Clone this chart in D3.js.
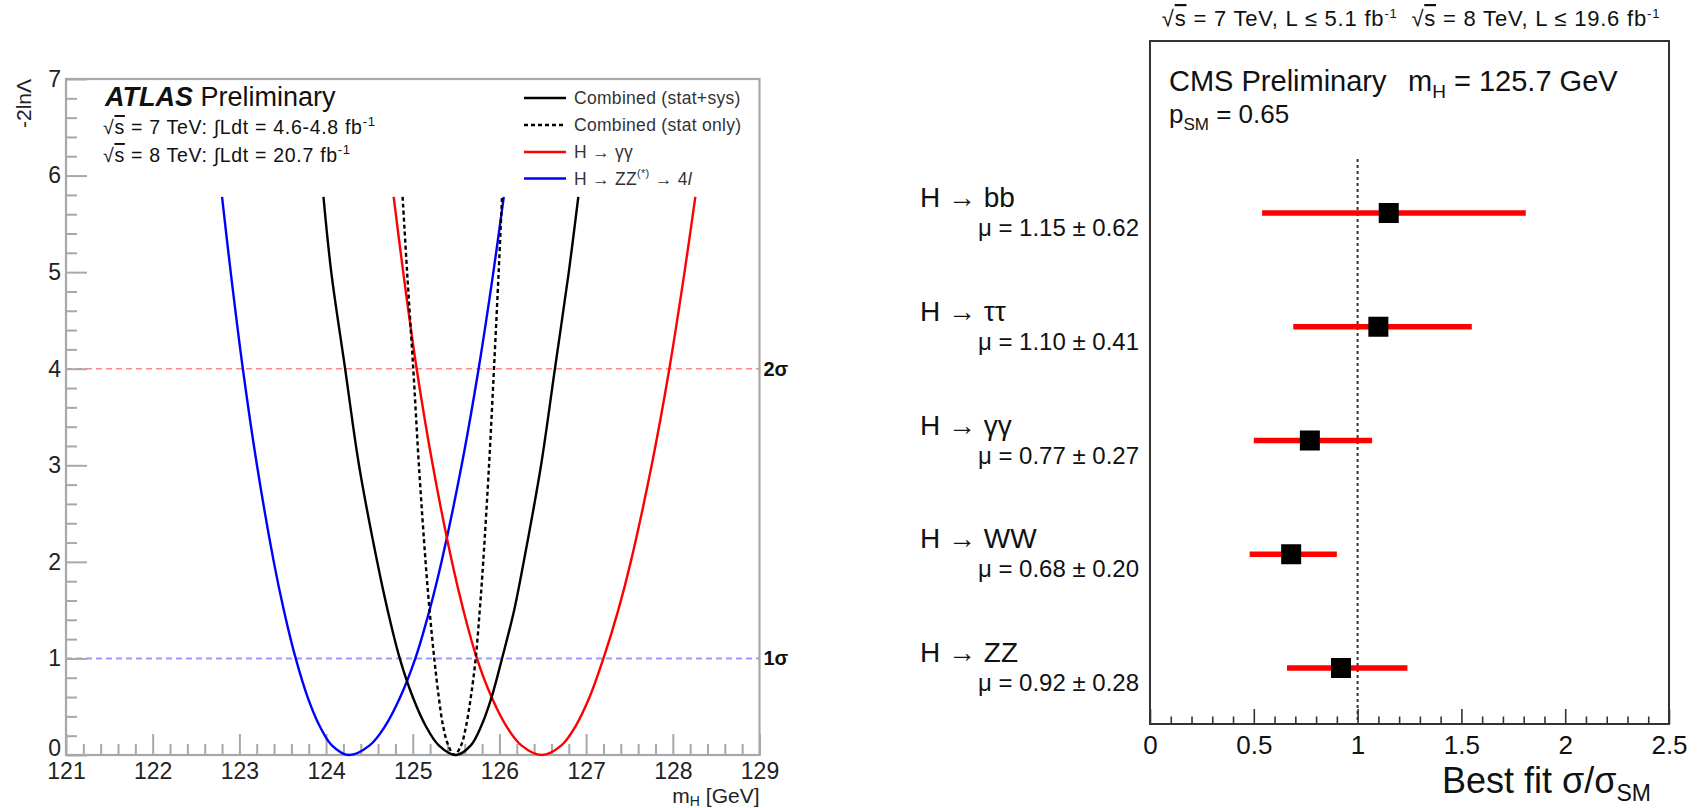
<!DOCTYPE html>
<html><head><meta charset="utf-8">
<script src="https://cdn.jsdelivr.net/npm/d3@7"></script>
<style>
html,body{margin:0;padding:0;background:#fff;}
svg{display:block;font-family:"Liberation Sans",Arial,Helvetica,sans-serif;}
</style></head><body>
<svg id="c" width="1702" height="808"></svg>
<script>
// ---------------- data (left: ATLAS mass scan) ----------------
const massTicks = [121,122,123,124,125,126,127,128,129];
const lnlTicks = [0,1,2,3,4,5,6,7];
const sigmaLevels = [1,4];
const sigmaLabels = ["1σ","2σ"];

// -2lnΛ levels at which each curve was read (left branch, minimum, right branch)
const scanLevels = [5.78,5,4,3,2,1.5,1,0.6,0.3,0.1,0,0.1,0.3,0.6,1,1.5,2,3,4,5,5.78];
const combSysMass  = [123.97,124.06,124.22,124.38,124.59,124.71,124.85,125.00,125.15,125.30,125.50,125.67,125.79,125.91,126.03,126.17,126.28,126.48,126.64,126.80,126.91];
const combStatMass = [124.883,124.935,125.006,125.071,125.148,125.194,125.248,125.30,125.35,125.41,125.48,125.558,125.615,125.67,125.726,125.773,125.813,125.88,125.937,125.991,126.03];
const ggMass       = [124.78,124.89,125.045,125.231,125.452,125.584,125.74,125.909,126.079,126.253,126.49,126.715,126.879,127.04,127.20,127.371,127.515,127.756,127.96,128.135,128.26];
const zzMass       = [122.80,122.90,123.04,123.203,123.397,123.513,123.65,123.787,123.926,124.067,124.26,124.503,124.682,124.856,125.03,125.194,125.332,125.564,125.76,125.93,126.05];

// ---------------- data (right: CMS signal strengths) ----------------
const channels  = ["bb","ττ","γγ","WW","ZZ"];
const muValues  = [1.15,1.10,0.77,0.68,0.92];
const muErrors  = [0.62,0.41,0.27,0.20,0.28];
const barLow    = [0.54,0.69,0.50,0.48,0.66];
const barHigh   = [1.81,1.55,1.07,0.90,1.24];
const muTicks   = [0,0.5,1,1.5,2,2.5];
const smValue   = 1;

// ---------------- helpers ----------------
const svg = d3.select("#c");
function rich(g, x, y, parts, o) {
  const t = g.append("text").attr("x", x).attr("y", y)
    .attr("font-size", o.size).attr("fill", o.fill || "#000")
    .attr("text-anchor", o.anchor || "start");
  if (o.weight) t.attr("font-weight", o.weight);
  if (o.ls) t.attr("letter-spacing", o.ls);
  let cur = 0;
  parts.forEach(p => {
    const off = p.off || 0;
    const ts = t.append("tspan").text(p.t).attr("dy", off - cur);
    cur = off;
    if (p.size) ts.attr("font-size", p.size);
    if (p.italic) ts.attr("font-style", "italic");
    if (p.bold) ts.attr("font-weight", "bold");
    if (p.over) ts.style("text-decoration", "overline");
  });
  return t;
}

// ================= LEFT PLOT =================
const xL = d3.scaleLinear().domain([121,129]).range([66,759.5]);
const yL = d3.scaleLinear().domain([0,7]).range([755,79]);
const L = svg.append("g");
const axisGray = "#a8a8a8";

// sigma lines
sigmaLevels.forEach((lv,i) => {
  L.append("line").attr("x1", xL(121)).attr("x2", xL(129))
    .attr("y1", yL(lv)).attr("y2", yL(lv))
    .attr("stroke", i === 0 ? "#9a9aff" : "#ff8888").attr("stroke-width", i === 0 ? 2 : 1.6)
    .attr("stroke-dasharray", "6,4");
  L.append("text").attr("x", xL(129) + 4).attr("y", yL(lv) + 7)
    .attr("font-size", 20).attr("font-weight", "bold").attr("fill", "#111")
    .text(sigmaLabels[i]);
});

// minor + major ticks
const minorM = d3.range(121, 129.001, 0.2).filter(v => Math.abs(v - Math.round(v)) > 1e-6);
const minorV = d3.range(0, 7.001, 0.2).filter(v => Math.abs(v - Math.round(v)) > 1e-6);

const gx = L.append("g").attr("transform", `translate(0,${yL(0)})`);
gx.call(d3.axisBottom(xL).tickValues(minorM).tickSize(-11).tickFormat(""));
gx.selectAll(".tick line").attr("stroke", axisGray).attr("stroke-width", 2);
const gx2 = L.append("g").attr("transform", `translate(0,${yL(0)})`);
gx2.call(d3.axisBottom(xL).tickValues(massTicks).tickSize(-21).tickPadding(8).tickFormat(d3.format("d")));
gx2.selectAll(".tick line").attr("stroke", axisGray).attr("stroke-width", 2);
gx2.selectAll(".tick text").attr("font-size", 23).attr("fill", "#222").attr("font-family", "Liberation Sans, Arial, sans-serif");
L.selectAll(".domain").remove();

const gy = L.append("g").attr("transform", `translate(${xL(121)},0)`);
gy.call(d3.axisLeft(yL).tickValues(minorV).tickSize(-11).tickFormat(""));
gy.selectAll(".tick line").attr("stroke", axisGray).attr("stroke-width", 2);
const gy2 = L.append("g").attr("transform", `translate(${xL(121)},0)`);
gy2.call(d3.axisLeft(yL).tickValues(lnlTicks).tickSize(-21).tickPadding(5).tickFormat(d3.format("d")));
gy2.selectAll(".tick line").attr("stroke", axisGray).attr("stroke-width", 2);
gy2.selectAll(".tick text").attr("font-size", 23).attr("fill", "#222").attr("font-family", "Liberation Sans, Arial, sans-serif");
gy2.selectAll(".tick text").filter(d => d === 0).attr("dy", "0em");
L.selectAll(".domain").remove();

// frame
L.append("rect").attr("x", xL(121)).attr("y", yL(7))
  .attr("width", xL(129) - xL(121)).attr("height", yL(0) - yL(7))
  .attr("fill", "none").attr("stroke", axisGray).attr("stroke-width", 2.2);

// curves
const lineL = d3.line().x(d => xL(d[0])).y(d => yL(d[1])).curve(d3.curveCatmullRom.alpha(0.5));
const curves = [
  {m: zzMass, c: "#0000ff", dash: null},
  {m: ggMass, c: "#ff0000", dash: null},
  {m: combSysMass, c: "#000000", dash: null},
  {m: combStatMass, c: "#000000", dash: "4,3"}
];
curves.forEach(cv => {
  const pts = cv.m.map((m,i) => [m, scanLevels[i]]);
  const p = L.append("path").attr("d", lineL(pts)).attr("fill", "none")
    .attr("stroke", cv.c).attr("stroke-width", 2.4);
  if (cv.dash) p.attr("stroke-dasharray", cv.dash);
});

// axis titles
L.append("text").attr("transform", `translate(31,79) rotate(-90)`)
  .attr("text-anchor", "end").attr("font-size", 21).attr("fill", "#222").text("-2lnΛ");
rich(L, xL(129), 803, [{t:"m"},{t:"H", size:14, off:3},{t:" [GeV]", off:0}], {size:21, anchor:"end", fill:"#222"});

// ATLAS label
rich(L, 105, 106, [{t:"ATLAS", bold:true, italic:true},{t:" Preliminary"}], {size:27, fill:"#111"});
rich(L, 103, 134, [{t:"√"},{t:"s", over:true},{t:" = 7 TeV: ∫Ldt = 4.6-4.8 fb"},{t:"-1", size:13, off:-8}], {size:19.5, fill:"#111", ls:0.7});
rich(L, 103, 162, [{t:"√"},{t:"s", over:true},{t:" = 8 TeV: ∫Ldt = 20.7 fb"},{t:"-1", size:13, off:-8}], {size:19.5, fill:"#111", ls:0.7});

// legend
const legY = [98, 125, 152, 178.5];
const legItems = [
  {c:"#000", dash:null, parts:[{t:"Combined (stat+sys)"}]},
  {c:"#000", dash:"4,3", parts:[{t:"Combined (stat only)"}]},
  {c:"#ff0000", dash:null, parts:[{t:"H → γγ"}]},
  {c:"#0000ff", dash:null, parts:[{t:"H → ZZ"},{t:"(*)", size:11, off:-8},{t:" → 4", off:0},{t:"l", italic:true}]}
];
legItems.forEach((it,i) => {
  const ln = L.append("line").attr("x1", 524).attr("x2", 566).attr("y1", legY[i]).attr("y2", legY[i])
    .attr("stroke", it.c).attr("stroke-width", 2.6);
  if (it.dash) ln.attr("stroke-dasharray", it.dash);
  rich(L, 574, legY[i] + 6, it.parts, {size:17.5, fill:"#333", ls:0.3});
});

// ================= RIGHT PLOT =================
const xR = d3.scaleLinear().domain([0,2.5]).range([1150,1669]);
const yR = d3.scalePoint().domain(channels).range([213,668]);
const R = svg.append("g");
const frameC = "#333";

// SM line
R.append("line").attr("x1", xR(smValue)).attr("x2", xR(smValue))
  .attr("y1", 159).attr("y2", 724)
  .attr("stroke", "#333").attr("stroke-width", 2).attr("stroke-dasharray", "3,3");

// bottom axis ticks
const minorMu = d3.range(0, 2.5001, 0.1).filter(v => Math.abs(v*2 - Math.round(v*2)) > 1e-6);
const gb = R.append("g").attr("transform", "translate(0,724)");
gb.call(d3.axisBottom(xR).tickValues(minorMu).tickSize(-7.5).tickFormat(""));
gb.selectAll(".tick line").attr("stroke", frameC).attr("stroke-width", 1.6);
const gb2 = R.append("g").attr("transform", "translate(0,724)");
gb2.call(d3.axisBottom(xR).tickValues(muTicks).tickSize(-15).tickPadding(12).tickFormat(d => String(d)));
gb2.selectAll(".tick line").attr("stroke", frameC).attr("stroke-width", 1.6);
gb2.selectAll(".tick text").attr("font-size", 26).attr("fill", "#111").attr("font-family", "Liberation Sans, Arial, sans-serif");
R.selectAll(".domain").remove();

// frame
R.append("rect").attr("x", xR(0)).attr("y", 41).attr("width", xR(2.5) - xR(0)).attr("height", 724 - 41)
  .attr("fill", "none").attr("stroke", frameC).attr("stroke-width", 2);

// error bars and points
channels.forEach((ch,i) => {
  const y = yR(ch);
  R.append("line").attr("x1", xR(barLow[i])).attr("x2", xR(barHigh[i]))
    .attr("y1", y).attr("y2", y).attr("stroke", "#ff0000").attr("stroke-width", 5.5);
  R.append("rect").attr("x", xR(muValues[i]) - 10).attr("y", y - 10)
    .attr("width", 20).attr("height", 20).attr("fill", "#000");
  rich(R, 920, y - 6, [{t:"H → " + ch}], {size:28, fill:"#111"});
  rich(R, 1139, y + 23, [{t:"μ = " + muValues[i].toFixed(2) + " ± " + muErrors[i].toFixed(2)}], {size:24, anchor:"end", fill:"#111"});
});

// texts
rich(R, 1411, 26, [{t:"√"},{t:"s", over:true},{t:" = 7 TeV, L ≤ 5.1 fb"},{t:"-1", size:13, off:-8},{t:"\u00a0\u00a0√", off:0},{t:"s", over:true},{t:" = 8 TeV, L ≤ 19.6 fb"},{t:"-1", size:13, off:-8}], {size:22, anchor:"middle", fill:"#111", ls:0.8});
rich(R, 1169, 91, [{t:"CMS Preliminary"}], {size:29, fill:"#111"});
rich(R, 1408, 91, [{t:"m"},{t:"H", size:19, off:7},{t:" = 125.7 GeV", off:0}], {size:29, fill:"#111"});
rich(R, 1169, 123, [{t:"p"},{t:"SM", size:17, off:7},{t:" = 0.65", off:0}], {size:26, fill:"#111"});
rich(R, 1442, 793, [{t:"Best fit σ/σ"},{t:"SM", size:23, off:8}], {size:36, fill:"#111"});
</script>
</body></html>
